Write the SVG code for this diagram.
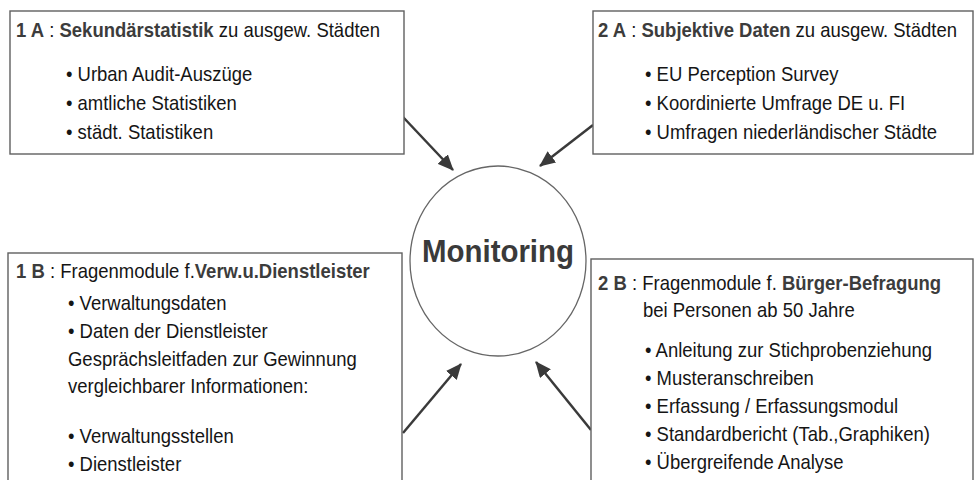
<svg xmlns="http://www.w3.org/2000/svg" width="976" height="480" viewBox="0 0 976 480">
<defs>
<style>
.box{fill:#fff;stroke:#606060;stroke-width:1.4}
.t{font-family:"Liberation Sans",Arial,sans-serif;font-size:20px;fill:#151515}
.b{font-weight:bold;fill:#3c3c3c}
.conn{stroke:#3a3a3a;stroke-width:2.5;fill:none;marker-end:url(#ah)}
</style>
<marker id="ah" markerUnits="userSpaceOnUse" markerWidth="16" markerHeight="14" refX="15" refY="7" orient="auto">
<path d="M0,0 L16,7 L0,14 Z" fill="#3a3a3a"/>
</marker>
</defs>
<rect width="976" height="480" fill="#fff"/>
<g id="connectors">
<line class="conn" x1="403" y1="117" x2="453" y2="170"/>
<line class="conn" x1="593" y1="125" x2="540" y2="166"/>
<line class="conn" x1="403" y1="433" x2="461" y2="364"/>
<line class="conn" x1="591" y1="430" x2="536" y2="362"/>
</g>
<g id="monitoring">
<ellipse cx="498" cy="261" rx="88" ry="95" fill="#fff" stroke="#666" stroke-width="1.3"/>
<text x="422" y="262" textLength="152" lengthAdjust="spacingAndGlyphs" font-family="Liberation Sans,Arial,sans-serif" font-size="32" font-weight="bold" fill="#3a3a3a">Monitoring</text>
</g>
<g id="box1A">
<rect class="box" x="10" y="11" width="394" height="143"/>
<g transform="translate(16,0) scale(0.925,1)">
<text class="t" x="0" y="37"><tspan class="b">1 A</tspan> : <tspan class="b">Sekundärstatistik</tspan> zu ausgew. Städten</text>
<text class="t" x="54" y="81">• Urban Audit-Auszüge</text>
<text class="t" x="54" y="110">• amtliche Statistiken</text>
<text class="t" x="54" y="139">• städt. Statistiken</text>
</g>
</g>
<g id="box2A">
<rect class="box" x="593" y="11" width="380" height="143"/>
<g transform="translate(598,0) scale(0.925,1)">
<text class="t" x="0" y="37"><tspan class="b">2 A</tspan> : <tspan class="b">Subjektive Daten</tspan> zu ausgew. Städten</text>
<text class="t" x="50.8" y="81">• EU Perception Survey</text>
<text class="t" x="50.8" y="110">• Koordinierte Umfrage DE u. FI</text>
<text class="t" x="50.8" y="139">• Umfragen niederländischer Städte</text>
</g>
</g>
<g id="box1B">
<rect class="box" x="8" y="253" width="394" height="240"/>
<g transform="translate(16,0) scale(0.925,1)">
<text class="t" x="0" y="278"><tspan class="b">1 B</tspan> : Fragenmodule f.<tspan class="b">Verw.u.Dienstleister</tspan></text>
<text class="t" x="56.2" y="310">• Verwaltungsdaten</text>
<text class="t" x="56.2" y="338">• Daten der Dienstleister</text>
<text class="t" x="56.2" y="366">Gesprächsleitfaden zur Gewinnung</text>
<text class="t" x="56.2" y="393">vergleichbarer Informationen:</text>
<text class="t" x="56.2" y="443">• Verwaltungsstellen</text>
<text class="t" x="56.2" y="471">• Dienstleister</text>
</g>
</g>
<g id="box2B">
<rect class="box" x="591" y="259" width="382" height="240"/>
<g transform="translate(598,0) scale(0.925,1)">
<text class="t" x="0" y="290"><tspan class="b">2 B</tspan> : Fragenmodule f. <tspan class="b">Bürger-Befragung</tspan></text>
<text class="t" x="48.6" y="317">bei Personen ab 50 Jahre</text>
<text class="t" x="50.8" y="357">• Anleitung zur Stichprobenziehung</text>
<text class="t" x="50.8" y="385">• Musteranschreiben</text>
<text class="t" x="50.8" y="413">• Erfassung / Erfassungsmodul</text>
<text class="t" x="50.8" y="441">• Standardbericht (Tab.,Graphiken)</text>
<text class="t" x="50.8" y="469">• Übergreifende Analyse</text>
</g>
</g>
</svg>
